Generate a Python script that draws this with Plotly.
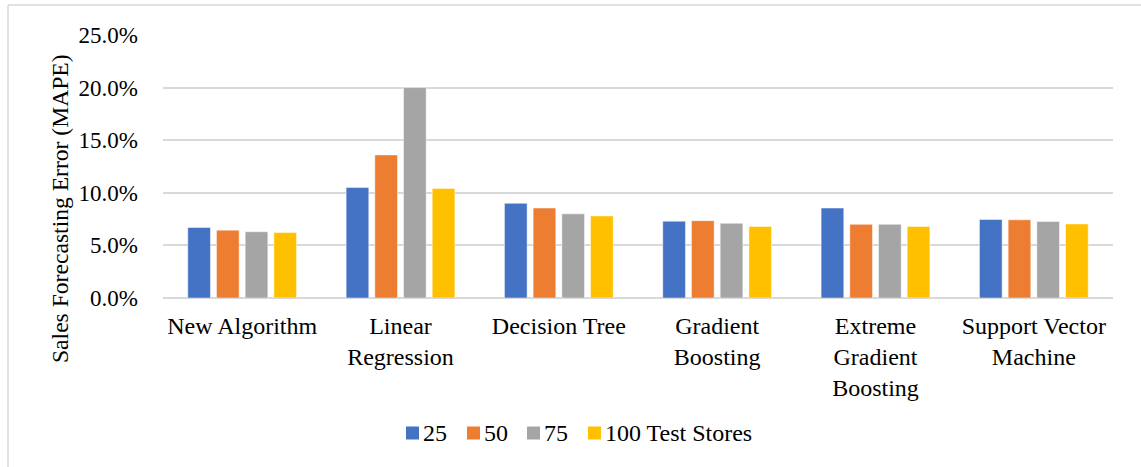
import plotly.graph_objects as go

# Forecasting methods compared (x-axis categories)
methods = [
    "New Algorithm",
    "Linear<br>Regression",
    "Decision Tree",
    "Gradient<br>Boosting",
    "Extreme<br>Gradient<br>Boosting",
    "Support Vector<br>Machine",
]

# Series names (number of test stores)
series_names = ["25", "50", "75", "100 Test Stores"]

# MAPE per method for each store count
mape_25 = [0.067, 0.105, 0.090, 0.073, 0.0855, 0.0746]
mape_50 = [0.0645, 0.136, 0.0855, 0.0735, 0.070, 0.0743]
mape_75 = [0.063, 0.200, 0.080, 0.071, 0.070, 0.0727]
mape_100 = [0.0622, 0.104, 0.078, 0.068, 0.068, 0.0704]

y_title = "Sales Forecasting Error (MAPE)"

colors = ["#4472C4", "#ED7D31", "#A5A5A5", "#FFC000"]
font_family = "Liberation Serif, Times New Roman, serif"

W, H = 1141, 467
M_L, M_R, M_T, M_B = 163, 28, 35, 169
plot_w = W - M_L - M_R
plot_h = H - M_T - M_B


def px_x(px):
    """Convert a horizontal pixel offset of the page into paper coordinates."""
    return (px - M_L) / plot_w


def px_y(py):
    """Convert a vertical pixel offset of the page into paper coordinates."""
    return (H - M_B - py) / plot_h


fig = go.Figure()
for name, vals, col in zip(series_names, [mape_25, mape_50, mape_75, mape_100], colors):
    fig.add_trace(go.Bar(
        x=methods, y=vals, name=name, showlegend=False,
        marker=dict(color=col, line=dict(color="rgba(255,255,255,0.6)", width=0.8)),
    ))

# outer chart frame (top and left edges)
fig.add_shape(type="line", xref="paper", yref="paper",
              x0=px_x(8), x1=px_x(1145), y0=px_y(5), y1=px_y(5),
              line=dict(color="#D9D9D9", width=1.5))
fig.add_shape(type="line", xref="paper", yref="paper",
              x0=px_x(8), x1=px_x(8), y0=px_y(5), y1=px_y(470),
              line=dict(color="#D9D9D9", width=1.5))

# vertical axis title, centred on the whole chart height
fig.add_annotation(text=y_title, xref="paper", yref="paper",
                   x=px_x(60), y=px_y(209), xanchor="center", yanchor="middle",
                   textangle=-90, showarrow=False, font=dict(size=23.6))

# legend row below the category labels: swatch + label per series
legend_swatch_left = [406, 467, 527, 588]
legend_cy = 433
swatch = 13
for name, col, lx in zip(series_names, colors, legend_swatch_left):
    fig.add_shape(type="rect", xref="paper", yref="paper",
                  x0=px_x(lx), x1=px_x(lx + swatch),
                  y0=px_y(legend_cy + swatch / 2), y1=px_y(legend_cy - swatch / 2),
                  fillcolor=col, line=dict(width=0))
    fig.add_annotation(text=name, xref="paper", yref="paper",
                       x=px_x(lx + swatch + 2), y=px_y(legend_cy),
                       xanchor="left", yanchor="middle", showarrow=False,
                       font=dict(size=24))

fig.update_layout(
    width=W, height=H,
    margin=dict(l=M_L, r=M_R, t=M_T, b=M_B),
    paper_bgcolor="white", plot_bgcolor="white",
    barmode="group", bargap=0.275, bargroupgap=0.21,
    font=dict(family=font_family, size=23, color="#000000"),
    showlegend=False,
    xaxis=dict(showgrid=False, showline=False, ticks="", tickfont=dict(size=24),
               ticklabelstandoff=11),
    yaxis=dict(range=[0, 0.25], dtick=0.05, tickformat=".1%",
               showgrid=True, gridcolor="#D9D9D9", gridwidth=1.5,
               zeroline=True, zerolinecolor="#D9D9D9", zerolinewidth=1.5,
               showline=False, ticks="", ticklabelstandoff=24,
               tickfont=dict(size=23)),
)

fig.write_html("out.html")
